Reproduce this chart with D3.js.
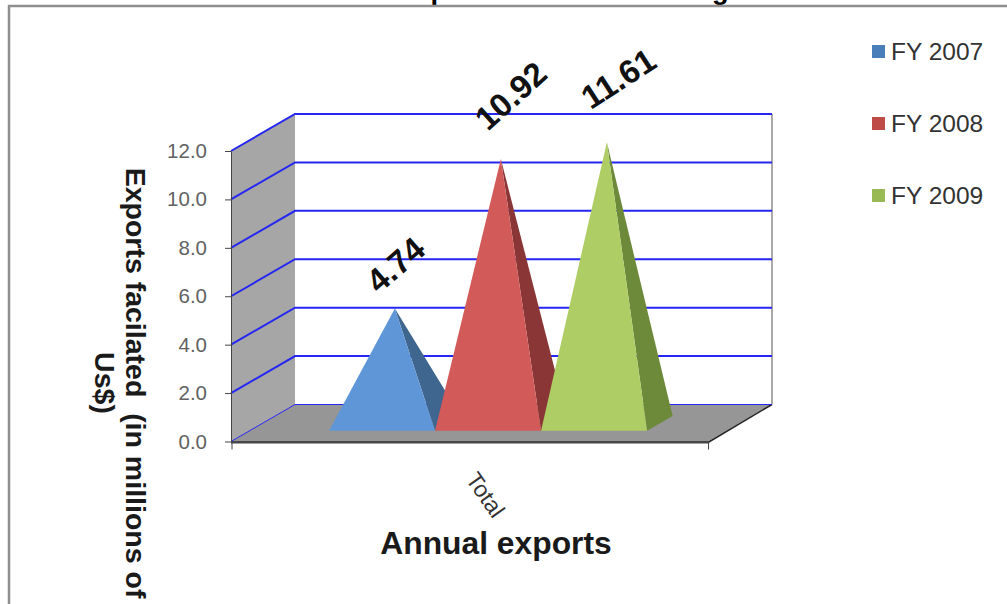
<!DOCTYPE html>
<html>
<head>
<meta charset="utf-8">
<script src="https://cdn.jsdelivr.net/npm/d3@7"></script>
<style>
  html, body { margin: 0; padding: 0; background: #fff; overflow: hidden; }
  text { font-family: "Liberation Sans", Arial, sans-serif; }
</style>
</head>
<body>
<svg id="chart" width="1007" height="604"></svg>
<script>
const seriesNames = ["FY 2007", "FY 2008", "FY 2009"];
const exportValues = [4.74, 10.92, 11.61];
const categories = ["Total"];
const yTicks = [0, 2, 4, 6, 8, 10, 12];

const frontColors = ["#5f96d8", "#d25a58", "#aecd64"];
const sideColors = ["#3f668f", "#8a3636", "#6d8a3a"];
const legendColors = ["#4a7ebb", "#be4b48", "#98b954"];

// label nudges, each value label sits a bit differently over its peak
const labelShiftX = [-16, -13, -16];
const labelShiftY = [-14, -27, -32];
const labelAngle = [-41, -42, -33];

let svg = d3.select("#chart");

// oblique projection: depth 0 is the front edge, depth 1 the back wall
const depthX = 64;
const depthY = -37;

let x = d3.scaleBand().domain(seriesNames).range([231, 708]).paddingOuter(0.75).paddingInner(0);
let y = d3.scaleLinear().domain([0, 12]).range([441.5, 151]);

let project = (px, value, depth) => [px + depth * depthX, y(value) + depth * depthY];
let poly = (points) => points.map((p) => p.join(",")).join(" ");

// title runs off the top of the page
svg.append("text")
  .attr("x", 397)
  .attr("y", -1)
  .attr("font-size", 27.4)
  .attr("font-weight", "bold")
  .text("Exports facilitated through");

svg.append("rect").attr("x", 0).attr("y", 6).attr("width", 1007).attr("height", 598).attr("fill", "#fff");

// outer frame
svg.append("path")
  .attr("d", "M9,604V6H1007")
  .attr("fill", "none")
  .attr("stroke", "#8f8f8f")
  .attr("stroke-width", 2.5);

// side wall and floor
svg.append("polygon")
  .attr("points", poly([project(231, 0, 0), project(231, 12, 0), project(231, 12, 1), project(231, 0, 1)]))
  .attr("fill", "#a6a6a6");
svg.append("polygon")
  .attr("points", poly([project(231, 0, 0), project(708, 0, 0), project(708, 0, 1), project(231, 0, 1)]))
  .attr("fill", "#969696");
svg.append("line")
  .attr("x1", 231).attr("x2", 708)
  .attr("y1", y(0) + 0.8).attr("y2", y(0) + 0.8)
  .attr("stroke", "#474747")
  .attr("stroke-width", 2.4);
svg.append("line")
  .attr("x1", project(708, 0, 0)[0]).attr("y1", project(708, 0, 0)[1] + 1)
  .attr("x2", project(708, 0, 1)[0]).attr("y2", project(708, 0, 1)[1])
  .attr("stroke", "#222")
  .attr("stroke-width", 1.5);

// back wall right edge
svg.append("line")
  .attr("x1", project(708, 0, 1)[0]).attr("y1", project(708, 0, 1)[1])
  .attr("x2", project(708, 12, 1)[0]).attr("y2", project(708, 12, 1)[1])
  .attr("stroke", "#8c8c8c")
  .attr("stroke-width", 1.5);

// gridlines wrap from the side wall onto the back wall
svg.selectAll(".grid")
  .data(yTicks)
  .enter()
  .append("polyline")
  .attr("class", "grid")
  .attr("points", (d) => poly([project(231, d, 0), project(231, d, 1), project(708, d, 1)]))
  .attr("fill", "none")
  .attr("stroke", "#2626f2")
  .attr("stroke-width", (d) => (d === 0 ? 1 : 2));

// pyramids, drawn left to right so each one covers its neighbour's side face
const baseFront = 0.29;
const baseBack = 0.69;
const apexDepth = (baseFront + baseBack) / 2;

let pyramids = svg.selectAll(".pyramid")
  .data(seriesNames)
  .enter()
  .append("g")
  .attr("class", "pyramid");

pyramids.append("polygon")
  .attr("points", (d, i) => {
    let right = x(d) + x.bandwidth();
    return poly([
      project(x(d) + x.bandwidth() / 2, exportValues[i], apexDepth),
      project(right, 0, baseFront),
      project(right, 0, baseBack)
    ]);
  })
  .attr("fill", (d, i) => sideColors[i]);

pyramids.append("polygon")
  .attr("points", (d, i) => poly([
    project(x(d) + x.bandwidth() / 2, exportValues[i], apexDepth),
    project(x(d), 0, baseFront),
    project(x(d) + x.bandwidth(), 0, baseFront)
  ]))
  .attr("fill", (d, i) => frontColors[i]);

// value labels above each peak
svg.selectAll(".value-label")
  .data(seriesNames)
  .enter()
  .append("text")
  .attr("class", "value-label")
  .attr("transform", (d, i) => {
    let apex = project(x(d) + x.bandwidth() / 2, exportValues[i], apexDepth);
    return `translate(${apex[0] + labelShiftX[i]},${apex[1] + labelShiftY[i]}) rotate(${labelAngle[i]})`;
  })
  .attr("font-size", 33)
  .attr("font-weight", "bold")
  .attr("fill", "#111")
  .text((d, i) => exportValues[i].toFixed(2));

// y axis
let yAxis = svg.append("g")
  .attr("transform", "translate(231,0)")
  .call(d3.axisLeft(y).tickValues(yTicks).tickFormat(d3.format(".1f")).tickSize(6).tickSizeOuter(0).tickPadding(18));
yAxis.select(".domain").attr("stroke", "#444");
yAxis.selectAll(".tick line").attr("stroke", "#444");
yAxis.selectAll("text")
  .attr("font-size", 20.5)
  .attr("font-family", "Liberation Sans")
  .attr("fill", "#626262");

// x axis ticks sit at the two ends of the single category
let xAxis = svg.append("g")
  .attr("transform", `translate(0,${y(0)})`)
  .call(d3.axisBottom(d3.scaleLinear().domain([0, 1]).range([231.5, 708])).tickValues([0, 1]).tickFormat("").tickSize(8).tickSizeOuter(0));
xAxis.select(".domain").remove();
xAxis.selectAll(".tick line").attr("stroke", "#444");

svg.append("text")
  .attr("transform", "translate(484,496) rotate(55)")
  .attr("text-anchor", "middle")
  .attr("dominant-baseline", "middle")
  .attr("font-size", 23)
  .attr("fill", "#333")
  .text(categories[0]);

svg.append("text")
  .attr("x", 496)
  .attr("y", 554)
  .attr("text-anchor", "middle")
  .attr("font-size", 31.8)
  .attr("font-weight", "bold")
  .attr("fill", "#1a1a1a")
  .text("Annual exports");

// y axis title, two lines reading downwards
let yTitle = svg.append("g").attr("font-weight", "bold").attr("font-size", 28.5).attr("fill", "#1a1a1a");
yTitle.append("text")
  .attr("transform", "translate(126,383) rotate(90)")
  .attr("text-anchor", "middle")
  .style("white-space", "pre")
  .text("Exports facilated  (in millions of");
yTitle.append("text")
  .attr("transform", "translate(95,383) rotate(90)")
  .attr("text-anchor", "middle")
  .text("Us$)");

// legend
let legend = svg.selectAll(".legend")
  .data(seriesNames)
  .enter()
  .append("g")
  .attr("class", "legend")
  .attr("transform", (d, i) => `translate(872,${45 + i * 72})`);
legend.append("rect")
  .attr("width", 13)
  .attr("height", 13)
  .attr("fill", (d, i) => legendColors[i]);
legend.append("text")
  .attr("x", 19)
  .attr("y", 15)
  .attr("font-size", 24.5)
  .attr("fill", "#333")
  .text((d) => d);
</script>
</body>
</html>
